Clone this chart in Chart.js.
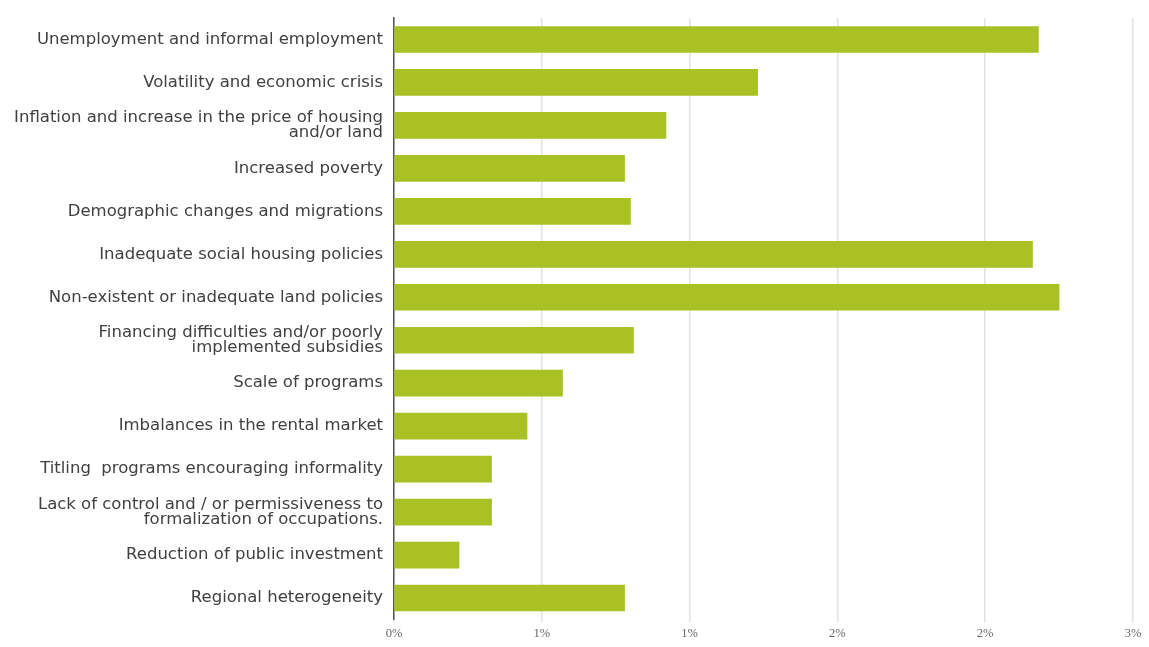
<!DOCTYPE html>
<html>
<head>
<meta charset="utf-8">
<script src="https://cdn.jsdelivr.net/npm/chart.js@4/dist/chart.umd.min.js"></script>
<style>
  html, body { margin: 0; padding: 0; background: #ffffff; }
  #wrap { width: 1149px; height: 647px; position: relative; }
</style>
</head>
<body>
<div id="wrap"><canvas id="chart"></canvas></div>
<script>
// Factors behind the housing deficit (share of responses, %)
const categories = [
  "Unemployment and informal employment",
  "Volatility and economic crisis",
  ["Inflation and increase in the price of housing", "and/or land"],
  "Increased poverty",
  "Demographic changes and migrations",
  "Inadequate social housing policies",
  "Non-existent or inadequate land policies",
  ["Financing difficulties and/or poorly", "implemented subsidies"],
  "Scale of programs",
  "Imbalances in the rental market",
  "Titling  programs encouraging informality",
  ["Lack of control and / or permissiveness to", "formalization of occupations."],
  "Reduction of public investment",
  "Regional heterogeneity"
];
const shares = [2.18, 1.23, 0.92, 0.78, 0.80, 2.16, 2.25, 0.81, 0.57, 0.45, 0.33, 0.33, 0.22, 0.78];
const axisMax = 2.5;
const axisStep = 0.5;

new Chart(document.getElementById('chart'), {
  type: 'bar',
  data: {
    labels: categories,
    datasets: [{
      data: shares,
      backgroundColor: '#a9c125',
      borderWidth: 0,
      barThickness: 26
    }]
  },
  options: {
    indexAxis: 'y',
    responsive: true,
    maintainAspectRatio: false,
    animation: false,
    layout: { padding: { top: 18, right: 16, bottom: 0, left: 0 } },
    plugins: { legend: { display: false }, tooltip: { enabled: false } },
    scales: {
      x: {
        min: 0,
        max: axisMax,
        ticks: {
          stepSize: axisStep,
          color: '#666666',
          font: { family: 'Liberation Serif', size: 12.5 },
          padding: 4,
          callback: v => Math.round(v) + '%'
        },
        grid: { color: '#e2e2e2', lineWidth: 1.5, tickLength: 3 },
        border: { display: false },
        afterFit: s => { s.height = 27.5; }
      },
      y: {
        ticks: {
          color: '#404040',
          font: { family: 'DejaVu Sans', size: 16.5, lineHeight: 0.88 },
          padding: 3,
          autoSkip: false
        },
        grid: { display: false },
        border: { display: true, color: '#555555', width: 1.5 },
        afterFit: s => { s.width = 394; }
      }
    }
  }
});
</script>
</body>
</html>
